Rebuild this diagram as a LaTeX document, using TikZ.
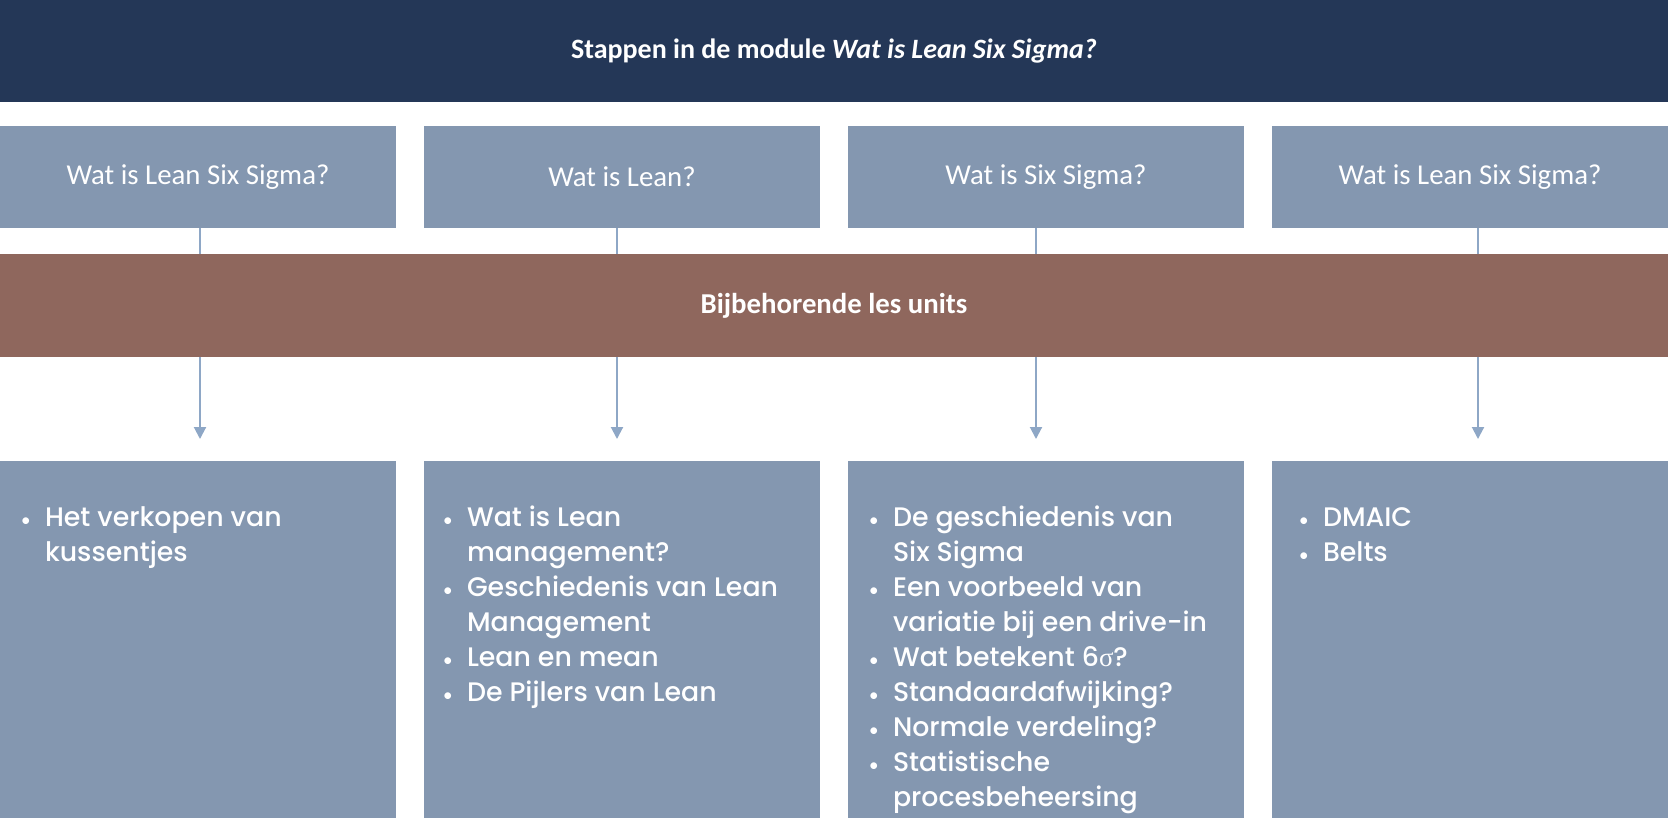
\documentclass[tikz,border=0pt]{standalone}
\usepackage{fontspec}
\setmainfont{Carlito}
\IfFontExistsTF{Poppins Medium}
  {\newfontfamily\listfont{Poppins Medium}}
  {\newfontfamily\listfont{Poppins}[FakeBold=0.6]}
\newfontfamily\grk{Liberation Serif}
\usetikzlibrary{positioning, arrows.meta}

\definecolor{navy}{HTML}{243757}
\definecolor{slate}{HTML}{8497B0}
\definecolor{clay}{HTML}{8F675D}
\definecolor{wire}{HTML}{8EA7C6}

\newcommand{\bul}{\makebox[12pt][l]{{\rmfamily\fontsize{9.5}{9.5}\selectfont •}}}

\begin{document}
\begin{tikzpicture}[
  x=0.5pt, y=-0.5pt,
  every node/.style={outer sep=0pt},
  head/.style={fill=navy, text=white, minimum width=834pt, minimum height=51pt, inner sep=0pt, font=\fontsize{14}{17}\selectfont\bfseries},
  stepbox/.style={fill=slate, text=white, minimum width=198pt, minimum height=51pt, inner sep=0pt, font=\fontsize{14.4}{17}\selectfont},
  band/.style={fill=clay, text=white, minimum width=834pt, minimum height=51.5pt, inner sep=0pt, font=\fontsize{14.4}{17}\selectfont\bfseries},
  unitbox/.style={fill=slate, minimum width=198pt, minimum height=178.5pt, inner sep=0pt},
  items/.style={text=white, inner sep=0pt, anchor=base west, font=\listfont\fontsize{13.4}{17.5}\selectfont},
  link/.style={draw=wire, line width=1pt},
  tip/.style={-{Triangle[width=6pt, length=6pt]}, shorten >=11pt}
]

\useasboundingbox (0,0) rectangle (1676,827);

% title bar
\node[head, anchor=north west] (title) at (0,0) {Stappen in de module \textit{Wat is Lean Six Sigma?}};

% steps
\node[stepbox, below=12pt of title.south west, anchor=north west] (s1) {Wat is Lean Six Sigma?};
\node[stepbox, right=14pt of s1] (s2) {Wat is Lean?};
\node[stepbox, right=14pt of s2] (s3) {Wat is Six Sigma?};
\node[stepbox, right=14pt of s3] (s4) {Wat is Lean Six Sigma?};

\node[band, below=13pt of s1.south west, anchor=north west] (units) {Bijbehorende les units};

% unit boxes
\node[unitbox, below=52pt of units.south west, anchor=north west] (u1) {};
\node[unitbox, right=14pt of u1] (u2) {};
\node[unitbox, right=14pt of u2] (u3) {};
\node[unitbox, right=14pt of u3] (u4) {};

\node[items] (l1) at ([shift={(21,65)}]u1.north west) {\begin{tabular}[t]{@{}l@{}l@{}}
  \bul & Het verkopen van\\
       & kussentjes
\end{tabular}};
\node[items] (l2) at ([shift={(19,65)}]u2.north west) {\begin{tabular}[t]{@{}l@{}l@{}}
  \bul & Wat is Lean\\
       & management?\\
  \bul & Geschiedenis van Lean\\
       & Management\\
  \bul & Lean en mean\\
  \bul & De Pijlers van Lean
\end{tabular}};
\node[items] (l3) at ([shift={(21,65)}]u3.north west) {\begin{tabular}[t]{@{}l@{}l@{}}
  \bul & De geschiedenis van\\
       & Six Sigma\\
  \bul & Een voorbeeld van\\
       & variatie bij een drive-in\\
  \bul & Wat betekent 6{\grk σ}?\\
  \bul & Standaardafwijking?\\
  \bul & Normale verdeling?\\
  \bul & Statistische\\
       & procesbeheersing
\end{tabular}};
\node[items] (l4) at ([shift={(27,65)}]u4.north west) {\begin{tabular}[t]{@{}l@{}l@{}}
  \bul & DMAIC\\
  \bul & Belts
\end{tabular}};

% connectors
\foreach \i/\dx in {1/1, 2/-2.5, 3/-5, 4/4} {
  \draw[link] ([xshift=\dx pt]s\i.south) -- ([xshift=\dx pt]s\i.south |- units.north);
  \draw[link, tip] ([xshift=\dx pt]s\i.south |- units.south) -- ([xshift=\dx pt]s\i.south |- u\i.north);
}

\end{tikzpicture}
\end{document}
